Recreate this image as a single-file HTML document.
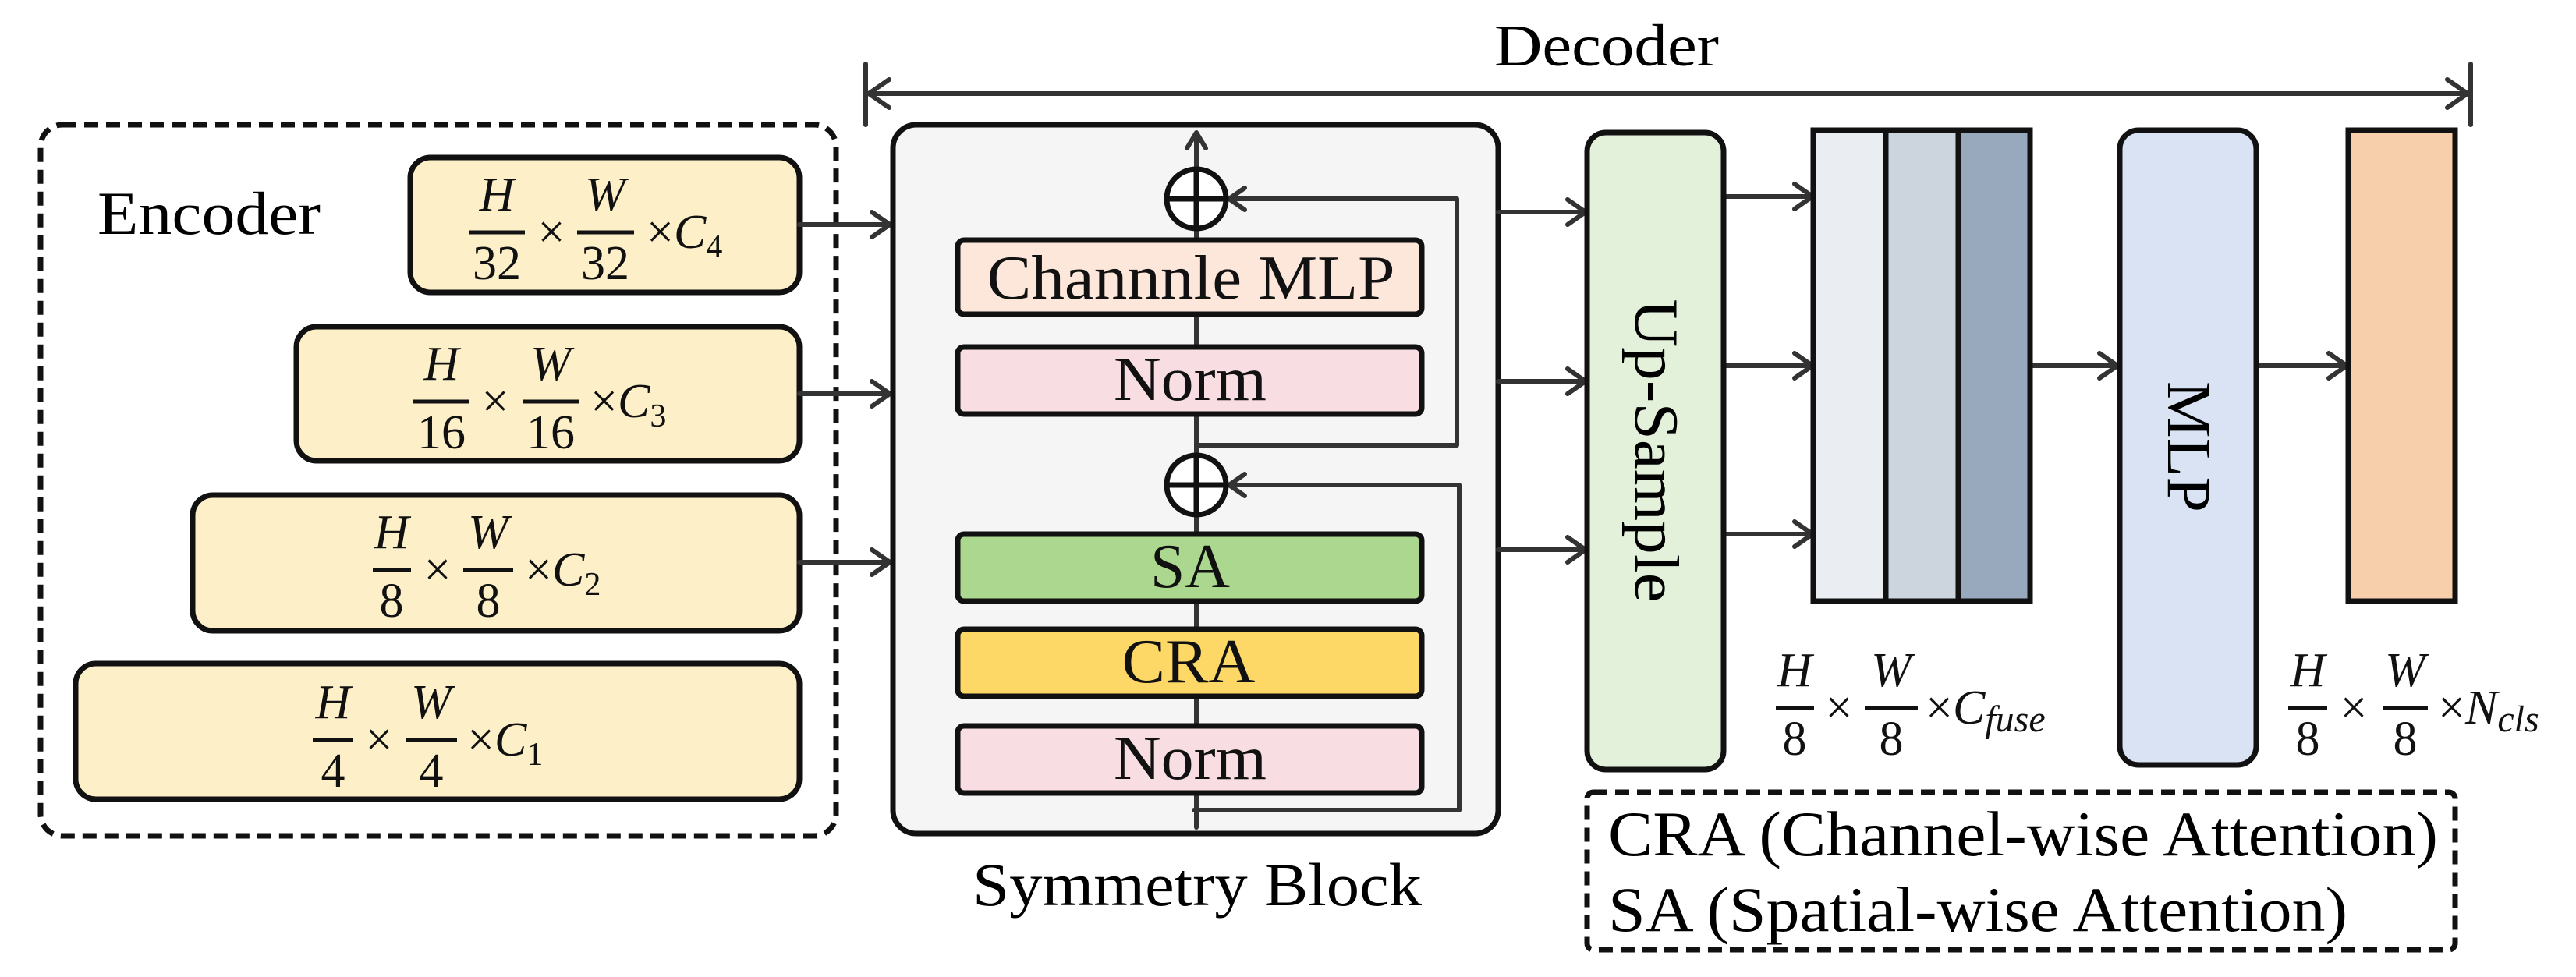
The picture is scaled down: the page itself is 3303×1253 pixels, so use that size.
<!DOCTYPE html>
<html><head><meta charset="utf-8"><style>html,body{margin:0;padding:0;background:#fff}svg{display:block}svg text{font-family:"Liberation Serif","Times New Roman","DejaVu Serif",serif}</style></head>
<body>
<svg width="3303" height="1253" viewBox="0 0 3303 1253" xmlns="http://www.w3.org/2000/svg">
<g fill="none" stroke="#333" stroke-width="6" stroke-linecap="round" stroke-linejoin="round">
<line x1="1110" y1="120" x2="3166" y2="120"/>
<line x1="1110" y1="82" x2="1110" y2="160"/>
<line x1="3168" y1="82" x2="3168" y2="160"/>
<polyline points="1140,102 1114,120 1140,138"/>
<polyline points="3138,102 3164,120 3138,138"/>
</g>
<text x="2060" y="84" font-size="76" text-anchor="middle" textLength="288" lengthAdjust="spacingAndGlyphs">Decoder</text>

<rect x="52" y="160" width="1020" height="912" rx="28" fill="none" stroke="#111" stroke-width="7" stroke-dasharray="18,10"/>
<text x="125" y="300" font-size="78" textLength="286" lengthAdjust="spacingAndGlyphs">Encoder</text>

<g fill="#fdf0c9" stroke="#111" stroke-width="7">
<rect x="526" y="202" width="499" height="173" rx="26"/>
<rect x="380" y="419" width="645" height="172" rx="26"/>
<rect x="247" y="635" width="778" height="174" rx="26"/>
<rect x="97" y="851" width="928" height="174" rx="26"/>
</g>

<g fill="none" stroke="#333" stroke-width="6" stroke-linecap="round" stroke-linejoin="round">
<line x1="1025" y1="288" x2="1140" y2="288"/><polyline points="1118,272 1141,288 1118,304"/>
<line x1="1025" y1="505" x2="1140" y2="505"/><polyline points="1118,489 1141,505 1118,521"/>
<line x1="1025" y1="721" x2="1140" y2="721"/><polyline points="1118,705 1141,721 1118,737"/>
</g>

<g font-size="62" fill="#111" stroke="none">
<g stroke="#111" stroke-width="5"><line x1="601" y1="298" x2="673" y2="298"/><line x1="740" y1="298" x2="813" y2="298"/></g>
<text x="637" y="270" text-anchor="middle" font-style="italic">H</text>
<text x="637" y="358" text-anchor="middle">32</text>
<text x="707" y="318" text-anchor="middle">×</text>
<text x="776" y="270" text-anchor="middle" font-style="italic">W</text>
<text x="776" y="358" text-anchor="middle">32</text>
<text x="829" y="318">×<tspan font-style="italic">C</tspan><tspan font-size="42" dy="12">4</tspan></text>
<g stroke="#111" stroke-width="5"><line x1="530" y1="515" x2="602" y2="515"/><line x1="670" y1="515" x2="742" y2="515"/></g>
<text x="566" y="487" text-anchor="middle" font-style="italic">H</text>
<text x="566" y="575" text-anchor="middle">16</text>
<text x="635" y="535" text-anchor="middle">×</text>
<text x="706" y="487" text-anchor="middle" font-style="italic">W</text>
<text x="706" y="575" text-anchor="middle">16</text>
<text x="757" y="535">×<tspan font-style="italic">C</tspan><tspan font-size="42" dy="12">3</tspan></text>
<g stroke="#111" stroke-width="5"><line x1="478" y1="731" x2="527" y2="731"/><line x1="594" y1="731" x2="658" y2="731"/></g>
<text x="502" y="703" text-anchor="middle" font-style="italic">H</text>
<text x="502" y="791" text-anchor="middle">8</text>
<text x="561" y="751" text-anchor="middle">×</text>
<text x="626" y="703" text-anchor="middle" font-style="italic">W</text>
<text x="626" y="791" text-anchor="middle">8</text>
<text x="673" y="751">×<tspan font-style="italic">C</tspan><tspan font-size="42" dy="12">2</tspan></text>
<g stroke="#111" stroke-width="5"><line x1="401" y1="949" x2="453" y2="949"/><line x1="520" y1="949" x2="586" y2="949"/></g>
<text x="427" y="921" text-anchor="middle" font-style="italic">H</text>
<text x="427" y="1009" text-anchor="middle">4</text>
<text x="486" y="969" text-anchor="middle">×</text>
<text x="553" y="921" text-anchor="middle" font-style="italic">W</text>
<text x="553" y="1009" text-anchor="middle">4</text>
<text x="599" y="969">×<tspan font-style="italic">C</tspan><tspan font-size="42" dy="12">1</tspan></text>
</g>

<rect x="1145" y="160" width="776" height="909" rx="30" fill="#f5f5f5" stroke="#111" stroke-width="7"/>
<g fill="none" stroke="#333" stroke-width="6" stroke-linecap="round" stroke-linejoin="round">
<line x1="1534" y1="1061" x2="1534" y2="172"/>
<polyline points="1522,190 1534,170 1546,190"/>
<polyline points="1534,571 1868,571 1868,255 1576,255"/>
<polyline points="1596,241 1576,255 1596,269"/>
<polyline points="1531,1039 1871,1039 1871,622 1576,622"/>
<polyline points="1596,608 1576,622 1596,636"/>
</g>
<g stroke="#111" stroke-width="7">
<circle cx="1534" cy="255" r="38" fill="#fff"/>
<line x1="1496" y1="255" x2="1572" y2="255"/><line x1="1534" y1="217" x2="1534" y2="293"/>
<circle cx="1534" cy="622" r="38" fill="#fff"/>
<line x1="1496" y1="622" x2="1572" y2="622"/><line x1="1534" y1="584" x2="1534" y2="660"/>
</g>
<g stroke="#111" stroke-width="7">
<rect x="1228" y="308" width="595" height="95" rx="8" fill="#fde7db"/>
<rect x="1228" y="445" width="595" height="86" rx="8" fill="#f8dde2"/>
<rect x="1228" y="685" width="595" height="86" rx="8" fill="#acd78e"/>
<rect x="1228" y="807" width="595" height="86" rx="8" fill="#fdd866"/>
<rect x="1228" y="931" width="595" height="86" rx="8" fill="#f8dde2"/>
</g>
<g font-size="80" fill="#111" text-anchor="middle">
<text x="1527" y="383" textLength="523" lengthAdjust="spacingAndGlyphs">Channnle MLP</text>
<text x="1526" y="513" textLength="196" lengthAdjust="spacingAndGlyphs">Norm</text>
<text x="1526" y="753" textLength="102" lengthAdjust="spacingAndGlyphs">SA</text>
<text x="1524" y="875" textLength="171" lengthAdjust="spacingAndGlyphs">CRA</text>
<text x="1526" y="999" textLength="196" lengthAdjust="spacingAndGlyphs">Norm</text>
</g>
<text x="1535" y="1161" font-size="78" text-anchor="middle" textLength="576" lengthAdjust="spacingAndGlyphs">Symmetry Block</text>

<g fill="none" stroke="#333" stroke-width="6" stroke-linecap="round" stroke-linejoin="round">
<line x1="1921" y1="272" x2="2032" y2="272"/><polyline points="2010,256 2033,272 2010,288"/>
<line x1="1921" y1="489" x2="2032" y2="489"/><polyline points="2010,473 2033,489 2010,505"/>
<line x1="1921" y1="705" x2="2032" y2="705"/><polyline points="2010,689 2033,705 2010,721"/>
<line x1="2210" y1="252" x2="2323" y2="252"/><polyline points="2301,236 2324,252 2301,268"/>
<line x1="2210" y1="469" x2="2323" y2="469"/><polyline points="2301,453 2324,469 2301,485"/>
<line x1="2210" y1="685" x2="2323" y2="685"/><polyline points="2301,669 2324,685 2301,701"/>
<line x1="2603" y1="469" x2="2714" y2="469"/><polyline points="2692,453 2715,469 2692,485"/>
<line x1="2893" y1="469" x2="3008" y2="469"/><polyline points="2986,453 3009,469 2986,485"/>
</g>

<rect x="2035" y="170" width="175" height="817" rx="24" fill="#e3f0da" stroke="#111" stroke-width="7"/>
<text transform="translate(2123,578) rotate(90)" font-size="80" text-anchor="middle" dominant-baseline="central" textLength="389" lengthAdjust="spacingAndGlyphs">Up-Sample</text>

<g stroke="#111" stroke-width="7">
<rect x="2325" y="167" width="93" height="604" fill="#eaedf2"/>
<rect x="2418" y="167" width="93" height="604" fill="#ccd4de"/>
<rect x="2511" y="167" width="92" height="604" fill="#98a8bd"/>
</g>

<rect x="2718" y="167" width="175" height="814" rx="24" fill="#dae3f4" stroke="#111" stroke-width="7"/>
<text transform="translate(2806,573) rotate(90)" font-size="80" text-anchor="middle" dominant-baseline="central" textLength="168" lengthAdjust="spacingAndGlyphs">MLP</text>

<rect x="3011" y="167" width="137" height="604" fill="#f7cfab" stroke="#111" stroke-width="7"/>

<g font-size="62" fill="#111">
<g stroke="#111" stroke-width="5"><line x1="2277" y1="908" x2="2326" y2="908"/><line x1="2391" y1="908" x2="2459" y2="908"/>
<line x1="2934" y1="908" x2="2984" y2="908"/><line x1="3055" y1="908" x2="3113" y2="908"/></g>
<text x="2301" y="880" text-anchor="middle" font-style="italic">H</text>
<text x="2301" y="968" text-anchor="middle">8</text>
<text x="2358" y="928" text-anchor="middle">×</text>
<text x="2425" y="880" text-anchor="middle" font-style="italic">W</text>
<text x="2425" y="968" text-anchor="middle">8</text>
<text x="2469" y="928">×<tspan font-style="italic">C</tspan><tspan font-size="48" dy="10" font-style="italic">fuse</tspan></text>
<text x="2959" y="880" text-anchor="middle" font-style="italic">H</text>
<text x="2959" y="968" text-anchor="middle">8</text>
<text x="3018" y="928" text-anchor="middle">×</text>
<text x="3084" y="880" text-anchor="middle" font-style="italic">W</text>
<text x="3084" y="968" text-anchor="middle">8</text>
<text x="3126" y="928">×<tspan font-style="italic">N</tspan><tspan font-size="48" dy="10" font-style="italic">cls</tspan></text>
</g>

<rect x="2035" y="1016" width="1113" height="202" rx="8" fill="none" stroke="#111" stroke-width="7" stroke-dasharray="18,10"/>
<text x="2062" y="1097" font-size="82" textLength="1064" lengthAdjust="spacingAndGlyphs">CRA (Channel-wise Attention)</text>
<text x="2062" y="1194" font-size="82" textLength="948" lengthAdjust="spacingAndGlyphs">SA (Spatial-wise Attention)</text>
</svg>
</body></html>
